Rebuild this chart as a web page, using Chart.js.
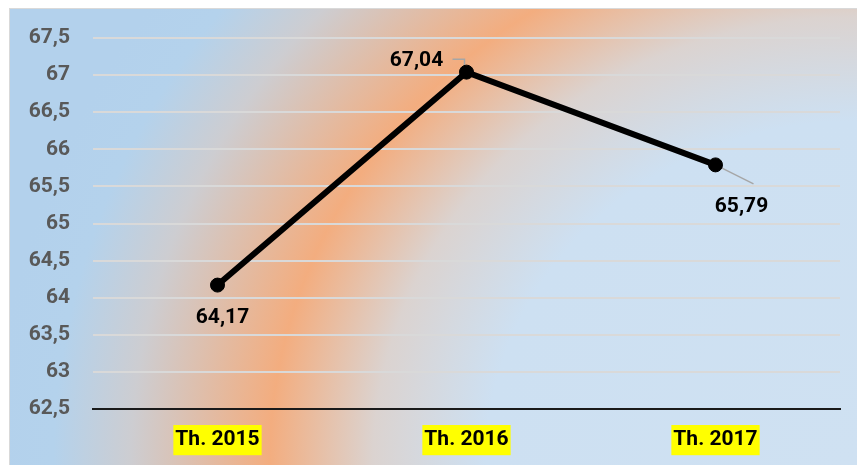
<!DOCTYPE html>
<html>
<head>
<meta charset="utf-8">
<script src="https://cdn.jsdelivr.net/npm/chart.js@4/dist/chart.umd.min.js"></script>
<style>
  html, body { margin: 0; padding: 0; background: #ffffff; }
  #wrap { width: 857px; height: 465px; }
</style>
</head>
<body>
<div id="wrap"><canvas id="c" width="857" height="465"></canvas></div>
<script>
// ---- data ----
const categories = ['Th. 2015', 'Th. 2016', 'Th. 2017'];
const values = [64.17, 67.04, 65.79];
const yMin = 62.5;
const yMax = 67.5;
const yStep = 0.5;

// ---- label styling (offsets from each point, in px) ----
const labelOffsets = [[5, 33], [-50, -11], [26, 42]];
const leaderPaths = [
  null,
  [[-14, -13], [-2, -13], [-2, 0]],
  [[38, 19], [0, 0]]
];

const FONT = "Roboto, 'Liberation Sans', sans-serif";
const fmt = v => String(v).replace('.', ',');

const bgPlugin = {
  id: 'bg',
  beforeDraw(chart) {
    const ctx = chart.ctx;
    const W = chart.width, H = chart.height;
    ctx.save();
    ctx.fillStyle = '#ffffff';
    ctx.fillRect(0, 0, W, H);
    ctx.translate(857, 465);
    ctx.scale(1.08, 1);
    const g = ctx.createRadialGradient(0, 0, 0, 0, 0, 800);
    g.addColorStop(0.00, '#cfe1f2');
    g.addColorStop(0.43, '#cde0f2');
    g.addColorStop(0.56, '#dbd3d0');
    g.addColorStop(0.68, '#f3ad7f');
    g.addColorStop(0.84, '#cdcdd1');
    g.addColorStop(0.93, '#b4d2ec');
    g.addColorStop(1.00, '#b3d1ec');
    ctx.fillStyle = g;
    ctx.fillRect(-900, -500, 900, 500);
    ctx.setTransform(1, 0, 0, 1, 0, 0);
    ctx.fillStyle = '#ffffff';
    ctx.fillRect(0, 0, W, 9);
    ctx.fillRect(0, 0, 10, H);
    ctx.strokeStyle = '#d9d9d9';
    ctx.lineWidth = 1;
    ctx.strokeRect(9.5, 8.5, W, H);
    ctx.restore();
  }
};

const labelPlugin = {
  id: 'dlabels',
  beforeDatasetsDraw(chart) {
    const ctx = chart.ctx;
    const meta = chart.getDatasetMeta(0);
    ctx.save();
    ctx.strokeStyle = '#a6a6a6';
    ctx.lineWidth = 1.5;
    meta.data.forEach((pt, i) => {
      const p = leaderPaths[i];
      if (!p) return;
      ctx.beginPath();
      p.forEach((o, j) => {
        const x = pt.x + o[0], y = pt.y + o[1];
        if (j === 0) ctx.moveTo(x, y); else ctx.lineTo(x, y);
      });
      ctx.stroke();
    });
    ctx.restore();
  },
  afterDatasetsDraw(chart) {
    const ctx = chart.ctx;
    const meta = chart.getDatasetMeta(0);
    ctx.save();
    ctx.font = 'bold 21px ' + FONT;
    ctx.fillStyle = '#000000';
    ctx.textAlign = 'center';
    ctx.textBaseline = 'middle';
    meta.data.forEach((pt, i) => {
      const o = labelOffsets[i];
      ctx.fillText(values[i].toFixed(2).replace('.', ','), pt.x + o[0], pt.y + o[1]);
    });
    ctx.restore();
  }
};

new Chart(document.getElementById('c'), {
  type: 'line',
  data: {
    labels: categories,
    datasets: [{
      data: values,
      borderColor: '#000000',
      borderWidth: 6,
      backgroundColor: '#000000',
      pointBackgroundColor: '#000000',
      pointBorderColor: '#000000',
      pointRadius: 7,
      pointBorderWidth: 1,
      tension: 0,
      fill: false
    }]
  },
  options: {
    responsive: false,
    devicePixelRatio: 1,
    animation: false,
    events: [],
    layout: { padding: { left: 10, top: 38, right: 17, bottom: 0 } },
    plugins: { legend: { display: false }, tooltip: { enabled: false } },
    scales: {
      x: {
        offset: true,
        grid: { display: false, drawTicks: false },
        border: { display: true, color: '#1a1a1a', width: 2 },
        ticks: {
          color: '#000000',
          font: { family: FONT, size: 21, weight: 'bold' },
          padding: 18,
          maxRotation: 0,
          showLabelBackdrop: true,
          backdropColor: '#ffff00',
          backdropPadding: { top: 2, bottom: 3, left: 2, right: 2 }
        },
        afterFit(scale) { scale.height = 56; }
      },
      y: {
        min: yMin,
        max: yMax,
        grid: { color: '#d9d9d9', lineWidth: 2, drawTicks: false },
        border: { display: false },
        ticks: {
          stepSize: yStep,
          color: '#595959',
          font: { family: FONT, size: 21, weight: 'bold' },
          padding: 23,
          callback: v => fmt(v)
        },
        afterFit(scale) { scale.width = 83; }
      }
    }
  },
  plugins: [bgPlugin, labelPlugin]
});
</script>
</body>
</html>
